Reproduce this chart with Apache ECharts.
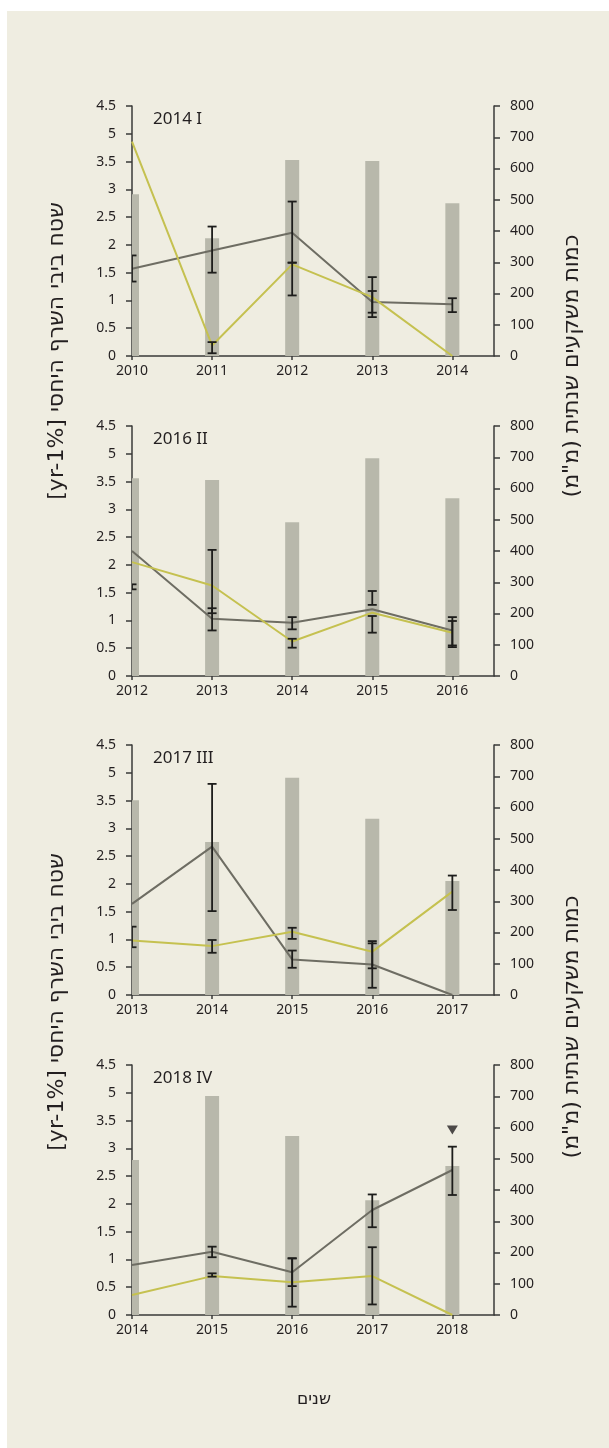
<!DOCTYPE html>
<html>
<head>
<meta charset="utf-8">
<title>rain</title>
<script src="https://cdn.jsdelivr.net/npm/echarts@6/dist/echarts.min.js"></script>
<style>
html,body{margin:0;padding:0;background:#fff;}
#main{width:609px;height:1448px;}
</style>
</head>
<body>
<div id="main"></div>
<script>
var myChart = echarts.init(document.getElementById('main'));

var panelTitles = ['2014 I', '2016 II', '2017 III', '2018 IV'];
var years = [
  [2010, 2011, 2012, 2013, 2014],
  [2012, 2013, 2014, 2015, 2016],
  [2013, 2014, 2015, 2016, 2017],
  [2014, 2015, 2016, 2017, 2018]
];
// annual rain (mm) -> bars on right axis
var rain = [
  [518, 377, 627, 624, 489],
  [633, 627, 492, 697, 569],
  [623, 490, 695, 564, 365],
  [496, 701, 573, 367, 477]
];
// relative area, left axis
var darkLine = [
  [1.57, 1.90, 2.22, 0.97, 0.93],
  [2.25, 1.03, 0.96, 1.20, 0.82],
  [1.64, 2.67, 0.64, 0.55, 0],
  [0.90, 1.14, 0.77, 1.89, 2.61]
];
var yellowLine = [
  [3.86, 0.19, 1.65, 1.06, 0],
  [2.05, 1.63, 0.62, 1.14, 0.78],
  [0.98, 0.88, 1.14, 0.78, 1.86],
  [0.36, 0.70, 0.59, 0.70, 0]
];
// error bars [low, high], null = none
var darkErr = [
  [[1.34, 1.81], [1.50, 2.33], [1.68, 2.78], [0.78, 1.17], [0.79, 1.04]],
  [[1.56, 1.65], [0.82, 1.22], [0.84, 1.06], [1.28, 1.53], [0.55, 1.06]],
  [null, [1.51, 3.80], [0.49, 0.80], [0.13, 0.97], null],
  [null, [1.04, 1.23], [0.52, 1.02], [1.58, 2.17], [2.16, 3.03]]
];
var yellowErr = [
  [null, [0.05, 0.25], [1.09, 1.68], [0.70, 1.42], null],
  [null, [1.13, 2.27], [0.51, 0.67], [0.78, 1.08], [0.52, 0.99]],
  [[0.86, 1.23], [0.76, 0.99], [1.01, 1.21], [0.48, 0.93], [1.53, 2.15]],
  [null, [0.69, 0.75], [0.15, 1.02], [0.19, 1.22], null]
];
// triangle marker (panel 4)
var markYear = 2018;
var markValue = 3.33;
var leftTicks = ['0', '0.5', '1', '1.5', '2', '2.5', '3', '3.5', '5', '4.5'];

var leftName = '[yr-1%] שטח ביבי השרף היחסי';
var rightName = 'כמות משקעים שנתית (מ"מ)\u200F';
var xName = 'שנים';

var numFont = '"Noto Sans", "DejaVu Sans", sans-serif';
var hebFont = '"DejaVu Sans", "Liberation Sans", sans-serif';
var ink = '#231f20';
var axisCol = '#3a3a38';

var tops = [106, 426, 745, 1065];

function clampX(cs, x) {
  return Math.max(cs.x, Math.min(cs.x + cs.width, x));
}

// bars drawn by hand so the half bar at the left axis is cut
function renderBar(params, api) {
  var cs = params.coordSys;
  var p = api.coord([api.value(0), api.value(1)]);
  var base = api.coord([api.value(0), 0]);
  var x0 = clampX(cs, p[0] - 7), x1 = clampX(cs, p[0] + 7);
  return {
    type: 'rect',
    shape: {x: x0, y: p[1], width: x1 - x0, height: base[1] - p[1]},
    style: {fill: '#B8B8AB'}
  };
}

function renderErr(params, api) {
  var cs = params.coordSys;
  var x = api.value(0);
  var lo = api.coord([x, api.value(1)]);
  var hi = api.coord([x, api.value(2)]);
  var c = 4.5;
  var a = clampX(cs, lo[0] - c), b = clampX(cs, lo[0] + c);
  var st = {stroke: '#1d1d1b', lineWidth: 1.8};
  return {
    type: 'group',
    children: [
      {type: 'line', shape: {x1: lo[0], y1: lo[1], x2: hi[0], y2: hi[1]}, style: st},
      {type: 'line', shape: {x1: a, y1: lo[1], x2: b, y2: lo[1]}, style: st},
      {type: 'line', shape: {x1: a, y1: hi[1], x2: b, y2: hi[1]}, style: st}
    ]
  };
}

var grid = [], xAxis = [], yAxis = [], series = [];
var graphic = [
  {type: 'rect', z: -10, silent: true, shape: {x: 7, y: 11, width: 602, height: 1437}, style: {fill: '#EFEDE1'}}
];

for (var i = 0; i < 4; i++) {
  grid.push({left: 132, width: 362, top: tops[i], height: 250});
  xAxis.push({
    type: 'value', gridIndex: i,
    min: years[i][0], max: years[i][0] + 4.52, interval: 1,
    axisLine: {lineStyle: {color: axisCol, width: 1.5}},
    axisTick: {length: 4, customValues: years[i], lineStyle: {color: axisCol, width: 1.5}},
    axisLabel: {customValues: years[i], margin: 8, color: ink, fontSize: 14, fontFamily: numFont,
      formatter: function (v) { return String(v); }},
    splitLine: {show: false}
  });
  yAxis.push({
    type: 'value', gridIndex: i, position: 'left',
    min: 0, max: 4.5, interval: 0.5,
    axisLine: {show: true, lineStyle: {color: axisCol, width: 1.5}},
    axisTick: {show: true, length: 6, lineStyle: {color: axisCol, width: 1.5}},
    axisLabel: {margin: 16, color: ink, fontSize: 14, fontFamily: numFont,
      formatter: function (v) { return leftTicks[Math.round(v / 0.5)]; }},
    splitLine: {show: false}
  });
  yAxis.push({
    type: 'value', gridIndex: i, position: 'right',
    min: 0, max: 800, interval: 100,
    axisLine: {show: true, lineStyle: {color: axisCol, width: 1.5}},
    axisTick: {show: true, length: 6, lineStyle: {color: axisCol, width: 1.5}},
    axisLabel: {margin: 16, color: ink, fontSize: 14, fontFamily: numFont},
    splitLine: {show: false}
  });

  var barData = [], dk = [], yl = [], errs = [];
  for (var j = 0; j < years[i].length; j++) {
    barData.push([years[i][j], rain[i][j]]);
    dk.push([years[i][j], darkLine[i][j]]);
    yl.push([years[i][j], yellowLine[i][j]]);
    if (darkErr[i][j]) errs.push([years[i][j], darkErr[i][j][0], darkErr[i][j][1]]);
    if (yellowErr[i][j]) errs.push([years[i][j], yellowErr[i][j][0], yellowErr[i][j][1]]);
  }

  series.push({
    type: 'custom', xAxisIndex: i, yAxisIndex: i * 2 + 1,
    renderItem: renderBar, encode: {x: 0, y: 1}, data: barData, z: 2
  });
  series.push({
    type: 'line', xAxisIndex: i, yAxisIndex: i * 2,
    showSymbol: false, lineStyle: {color: '#6E6D63', width: 2}, data: dk, z: 3
  });
  series.push({
    type: 'line', xAxisIndex: i, yAxisIndex: i * 2,
    showSymbol: false, lineStyle: {color: '#C5C150', width: 2}, data: yl, z: 3
  });
  series.push({
    type: 'custom', xAxisIndex: i, yAxisIndex: i * 2, clip: true,
    renderItem: renderErr, encode: {x: 0, y: [1, 2]}, data: errs, z: 4
  });

  graphic.push({
    type: 'text', left: 153, top: tops[i] + 5, z: 10,
    style: {text: panelTitles[i], fontSize: 17, fontFamily: numFont, fill: ink}
  });
}

series.push({
  type: 'scatter', xAxisIndex: 3, yAxisIndex: 6,
  symbol: 'triangle', symbolRotate: 180, symbolSize: [11, 9],
  itemStyle: {color: '#231f20'}, data: [[markYear, markValue]], z: 5
});

var leftY = [351, 1002], rightY = [366, 1027];
for (var k = 0; k < 2; k++) {
  graphic.push({
    type: 'text', x: 57, y: leftY[k], rotation: Math.PI / 2, z: 10,
    style: {text: leftName, fontSize: 22, fontFamily: hebFont, fill: ink, align: 'center', verticalAlign: 'middle'}
  });
  graphic.push({
    type: 'text', x: 572, y: rightY[k], rotation: Math.PI / 2, z: 10,
    style: {text: rightName, fontSize: 22, fontFamily: hebFont, fill: ink, align: 'center', verticalAlign: 'middle'}
  });
}
graphic.push({
  type: 'text', x: 314, y: 1400, z: 10,
  style: {text: xName, fontSize: 17, fontFamily: hebFont, fill: ink, align: 'center', verticalAlign: 'middle'}
});

var option = {
  animation: false,
  backgroundColor: '#ffffff',
  grid: grid,
  xAxis: xAxis,
  yAxis: yAxis,
  series: series,
  graphic: graphic
};
myChart.setOption(option);
</script>
</body>
</html>
